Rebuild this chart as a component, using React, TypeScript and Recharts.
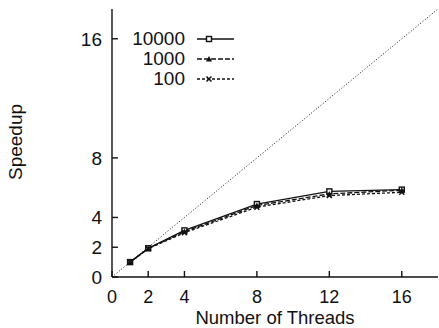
import React from "react";
import { LineChart, Line, XAxis, YAxis, Legend, Label } from "recharts";

const threads = [1, 2, 4, 8, 12, 16];
const speedup10000 = [1.0, 1.93, 3.13, 4.9, 5.75, 5.87];
const speedup1000 = [1.0, 1.92, 3.05, 4.8, 5.58, 5.83];
const speedup100 = [1.0, 1.9, 2.98, 4.69, 5.47, 5.69];

const xTicks = [0, 2, 4, 8, 12, 16];
const yTicks = [0, 2, 4, 8, 16];
const idealX = [0, 18];

const FONT = '"Liberation Sans", Arial, sans-serif';
const INK = "#111";

const data = threads.map((t, i) => ({
    threads: t,
    s10000: speedup10000[i],
    s1000: speedup1000[i],
    s100: speedup100[i],
}));
const ideal = idealX.map(v => ({ x: v, y: v }));

const SquareDot = (p: any) => (
    <rect x={p.cx - 2.5} y={p.cy - 2.5} width={5} height={5} fill="#fff" stroke={INK} strokeWidth={1.4} />
);
const TriDot = (p: any) => (
    <path d={`M${p.cx},${p.cy - 3} L${p.cx + 3},${p.cy + 2.5} L${p.cx - 3},${p.cy + 2.5} Z`} fill={INK} />
);
const CrossDot = (p: any) => (
    <path d={`M${p.cx - 2.5},${p.cy - 2.5} L${p.cx + 2.5},${p.cy + 2.5} M${p.cx - 2.5},${p.cy + 2.5} L${p.cx + 2.5},${p.cy - 2.5}`} stroke={INK} strokeWidth={1.5} />
);

const SERIES = [
    { key: "s10000", name: "10000", dash: undefined, Dot: SquareDot },
    { key: "s1000", name: "1000", dash: "5 2", Dot: TriDot },
    { key: "s100", name: "100", dash: "3 2", Dot: CrossDot },
];

function LegendBox() {
    return (
        <div style={{ fontFamily: FONT, fontSize: 19, color: INK, lineHeight: "20px" }}>
            {SERIES.map(s => (
                <div key={s.key} style={{ display: "flex", alignItems: "center", height: 20 }}>
                    <span style={{ width: 60, textAlign: "right" }}>{s.name}</span>
                    <svg width={52} height={20} style={{ marginLeft: 12 }}>
                        <line x1={0} y1={10} x2={37} y2={10} stroke={INK} strokeWidth={1.3} strokeDasharray={s.dash} />
                        <s.Dot cx={12} cy={10} />
                    </svg>
                </div>
            ))}
        </div>
    );
}

export default function App() {
    return (
        <div style={{ position: "absolute", left: 0, top: 0, width: 439, height: 328, background: "#fff" }}>
            <LineChart width={439} height={328} data={data} margin={{ top: 9, right: 1, left: 0, bottom: 0 }}
                style={{ fontFamily: FONT }}>
                <XAxis dataKey="threads" type="number" domain={[0, 18]} ticks={xTicks} allowDataOverflow
                    height={51} tickSize={-6} tickMargin={19} stroke={INK} strokeWidth={1.4}
                    tick={{ fill: INK, fontSize: 18 }}>
                    <Label position="insideBottom" offset={4} value="Number of Threads"
                        style={{ fill: INK, fontSize: 18.5, fontFamily: FONT }} />
                </XAxis>
                <YAxis type="number" domain={[0, 18]} ticks={yTicks} allowDataOverflow width={112}
                    tickSize={-6} tickMargin={16} stroke={INK} strokeWidth={1.4}
                    tick={{ fill: INK, fontSize: 19 }}>
                    <Label content={() => (
                        <text x={15} y={142} transform="rotate(-90 15 142)" textAnchor="middle" dominantBaseline="central"
                            fill={INK} fontSize={19} fontFamily={FONT}>Speedup</text>
                    )} />
                </YAxis>
                <XAxis xAxisId="top" orientation="top" dataKey="x" type="number" domain={[0, 18]} ticks={xTicks}
                    allowDataOverflow height={0} tickSize={-6} tick={false} stroke={INK} strokeWidth={1.4} />
                <YAxis yAxisId="right" orientation="right" type="number" domain={[0, 18]} ticks={yTicks}
                    allowDataOverflow width={0} tickSize={-6} tick={false} stroke={INK} strokeWidth={1.4} />
                <Line data={ideal} xAxisId="top" yAxisId="right" dataKey="y" stroke={INK} strokeWidth={1}
                    strokeDasharray="1 2" dot={false} legendType="none" isAnimationActive={false} />
                {SERIES.map(s => (
                    <Line key={s.key} dataKey={s.key} name={s.name} stroke={INK} strokeWidth={1.3}
                        strokeDasharray={s.dash} dot={(p: any) => <s.Dot key={p.index} cx={p.cx} cy={p.cy} />}
                        isAnimationActive={false} />
                ))}
                <Legend layout="vertical" align="center" verticalAlign="middle" content={() => <LegendBox />}
                    wrapperStyle={{ position: "absolute", left: 125, top: 29, width: 130 }} />
            </LineChart>
        </div>
    );
}
